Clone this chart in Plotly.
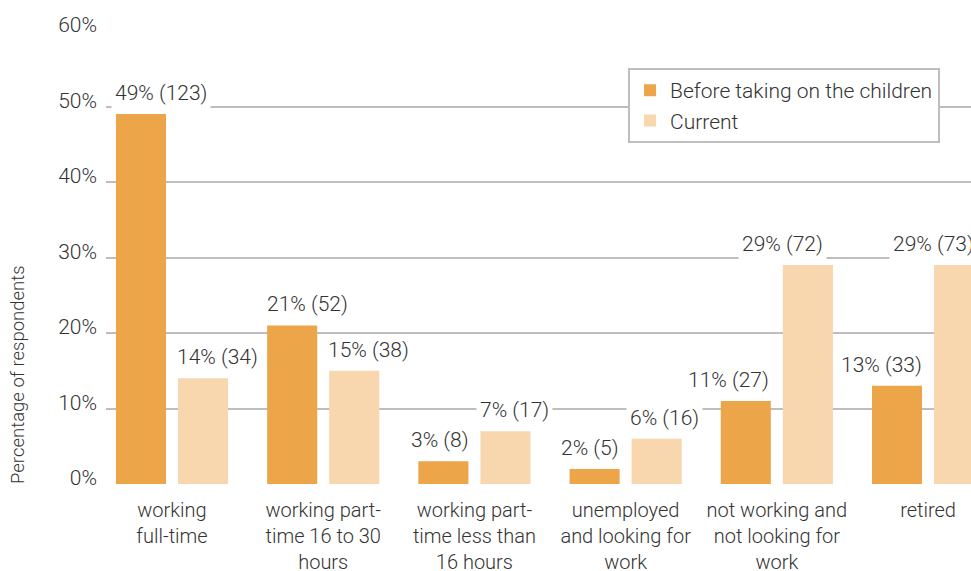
import plotly.graph_objects as go

# Employment status of respondents, before taking on the children vs. now
categories = [
    "working<br>full-time",
    "working part-<br>time 16 to 30<br>hours",
    "working part-<br>time less than<br>16 hours",
    "unemployed<br>and looking for<br>work",
    "not working and<br>not looking for<br>work",
    "retired",
]
before_pct = [49, 21, 3, 2, 11, 13]
before_n = [123, 52, 8, 5, 27, 33]
current_pct = [14, 15, 7, 6, 29, 29]
current_n = [34, 38, 17, 16, 72, 73]
y_ticks = [0, 10, 20, 30, 40, 50, 60]

series_names = ["Before taking on the children", "Current"]
ORANGE = "#EDA54A"
PEACH = "#F8D6AE"
TEXT = "#333333"
GRID = "#bebec1"
FONT = "Roboto, Liberation Sans, Arial, sans-serif"
WEIGHT = 300
SIZE = 21

# horizontal nudges (px) for the value labels, relative to their bar centres
before_label_dx = [20, 15, -3, -5, -17, -16]
current_label_dx = [14, 14, 9, 8, -25, -26]

fig = go.Figure()
fig.add_trace(go.Bar(x=categories, y=before_pct, name=series_names[0],
                     marker=dict(color=ORANGE, line=dict(width=0))))
fig.add_trace(go.Bar(x=categories, y=current_pct, name=series_names[1],
                     marker=dict(color=PEACH, line=dict(width=0))))

# value labels "pct% (n)" on white boxes so the gridlines break behind them
bar_half_step = 31
for vals, counts, dxs, side in [
    (before_pct, before_n, before_label_dx, -1),
    (current_pct, current_n, current_label_dx, 1),
]:
    for cat, v, n, dx in zip(categories, vals, counts, dxs):
        fig.add_annotation(
            x=cat, y=v, xref="x", yref="y",
            text=f"{v}% ({n})", showarrow=False,
            xanchor="center", yanchor="bottom",
            xshift=side * bar_half_step + dx, yshift=5,
            bgcolor="white", borderpad=3,
            font=dict(family=FONT, size=SIZE, color=TEXT, weight=WEIGHT),
        )

# rotated axis title, positioned in pixels relative to the plot area
fig.add_annotation(
    xref="paper", yref="paper",
    x=(18 - 106) / 865, y=(484 - 375) / 453,
    xanchor="center", yanchor="middle",
    text="Percentage of respondents", showarrow=False, textangle=-90,
    font=dict(family=FONT, size=18.5, color=TEXT, weight=WEIGHT),
)

fig.update_layout(
    width=971, height=571,
    margin=dict(l=106, r=0, t=31, b=87),
    paper_bgcolor="white", plot_bgcolor="white",
    barmode="group", bargap=0.179, bargroupgap=0.1935,
    font=dict(family=FONT, size=SIZE, color=TEXT, weight=WEIGHT),
    showlegend=True,
    legend=dict(
        x=0.6035, y=0.918, xanchor="left", yanchor="top",
        bgcolor="white", bordercolor=GRID, borderwidth=2,
        font=dict(family=FONT, size=SIZE, color=TEXT, weight=WEIGHT),
    ),
    xaxis=dict(
        range=[-0.4365, 5.284], showgrid=False, zeroline=False,
        showline=False, ticks="outside", ticklen=8, tickcolor="white",
        automargin=False,
        tickfont=dict(family=FONT, size=20, color=TEXT, weight=WEIGHT),
    ),
    yaxis=dict(
        range=[0, 60], tickvals=y_ticks, ticktext=[f"{t}%" for t in y_ticks],
        showgrid=True, gridcolor=GRID, gridwidth=2, zeroline=False,
        showline=False, ticks="", ticklabelstandoff=8, ticklabelshift=-6,
        automargin=False,
        tickfont=dict(family=FONT, size=SIZE, color=TEXT, weight=WEIGHT),
    ),
)

fig.write_html("out.html")
